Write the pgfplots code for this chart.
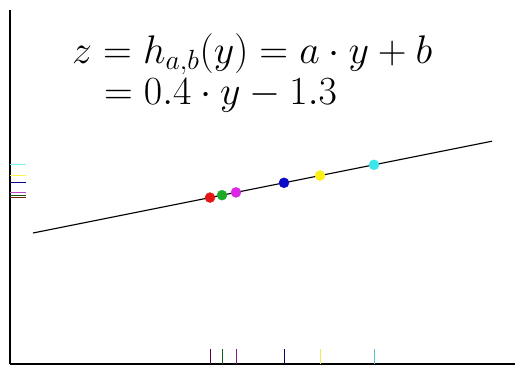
\documentclass[border=0pt]{standalone}
\usepackage{pgfplots}
\usepackage{graphicx}
\pgfplotsset{compat=1.18}
\definecolor{ptred}{RGB}{230,20,20}
\definecolor{ptgreen}{RGB}{30,170,40}
\definecolor{ptmag}{RGB}{220,40,230}
\definecolor{ptblue}{RGB}{10,10,200}
\definecolor{ptyellow}{RGB}{250,240,20}
\definecolor{ptcyan}{RGB}{60,230,235}
\begin{document}
\begin{tikzpicture}
\begin{axis}[
  scale only axis,
  width=505bp, height=354bp,
  xmin=0, xmax=10.1,
  ymin=-6.356, ymax=7.804,
  axis x line=bottom, axis y line=left,
  axis line style={-, black, line width=1.2bp},
  xtick=\empty, ytick=\empty,
  clip=false,
]
% fitted line z = 0.4 y - 1.3
\addplot[black, line width=1.1bp] coordinates {(0.46,-1.116) (9.64,2.556)};
% projections of the points onto the y axis (bottom)
\addplot[ptred!45!black!80!blue, line width=1bp] coordinates {(4.00,-6.356) (4.00,-5.76)};
\addplot[ptgreen!55!black, line width=1bp] coordinates {(4.24,-6.356) (4.24,-5.76)};
\addplot[ptmag!60!black, line width=1bp] coordinates {(4.52,-6.356) (4.52,-5.76)};
\addplot[ptblue!50!black, line width=1bp] coordinates {(5.48,-6.356) (5.48,-5.76)};
\addplot[ptyellow!70!white!90!gray, line width=1bp] coordinates {(6.20,-6.356) (6.20,-5.76)};
\addplot[ptcyan!70!gray, line width=1bp] coordinates {(7.28,-6.356) (7.28,-5.76)};
% projections of the points onto the z axis (left)
\addplot[ptred!50!black!90!green, line width=1.3bp] coordinates {(0,0.300) (0.32,0.300)};
\addplot[ptgreen!50!black, line width=1bp] coordinates {(0,0.396) (0.32,0.396)};
\addplot[ptmag!60!gray, line width=1bp] coordinates {(0,0.508) (0.32,0.508)};
\addplot[ptblue!60!black, line width=1bp] coordinates {(0,0.892) (0.32,0.892)};
\addplot[ptyellow!75!white, line width=1bp] coordinates {(0,1.180) (0.32,1.180)};
\addplot[ptcyan!65!white, line width=1bp] coordinates {(0,1.612) (0.32,1.612)};
% the points
\addplot[only marks, mark=*, mark size=5bp, ptred, mark options={draw=ptred}] coordinates {(4.00,0.300)};
\addplot[only marks, mark=*, mark size=5bp, ptgreen, mark options={draw=ptgreen}] coordinates {(4.24,0.396)};
\addplot[only marks, mark=*, mark size=5bp, ptmag, mark options={draw=ptmag}] coordinates {(4.52,0.508)};
\addplot[only marks, mark=*, mark size=5bp, ptblue, mark options={draw=ptblue}] coordinates {(5.48,0.892)};
\addplot[only marks, mark=*, mark size=5bp, ptyellow, mark options={draw=ptyellow}] coordinates {(6.20,1.180)};
\addplot[only marks, mark=*, mark size=5bp, ptcyan, mark options={draw=ptcyan}] coordinates {(7.28,1.612)};
% formula, two lines in one block
\node[anchor=base west, inner sep=0pt] at (axis cs:1.24,4.004)
  {\scalebox{1.61}{\fontsize{27}{31}\selectfont
   \vbox{\baselineskip=26pt\lineskiplimit=-100pt\lineskip=0pt
     \hbox{$z = h_{a,b}(y) = a\cdot y + b$}
     \hbox{\kern13pt${} = 0.4\cdot y - 1.3$}}}};
\end{axis}
\path ([shift={(-10bp,-4bp)}]current axis.south west) rectangle ([shift={(5bp,10bp)}]current axis.north east);
\end{tikzpicture}
\end{document}
